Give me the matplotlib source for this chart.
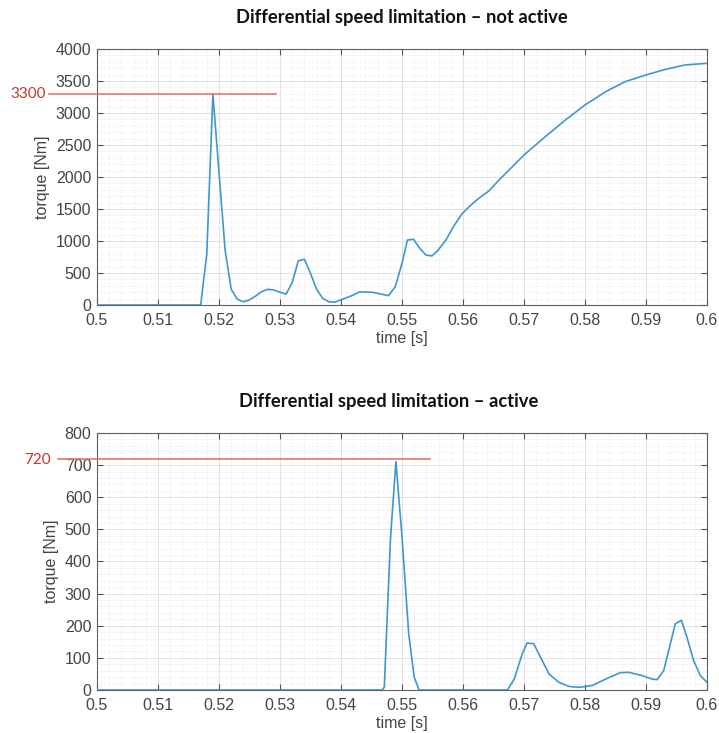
import matplotlib
matplotlib.use("Agg")
import matplotlib.pyplot as plt
import numpy as np
from matplotlib.ticker import MultipleLocator

plt.rcParams['font.family'] = ['Liberation Sans', 'DejaVu Sans']

# --- data ---
# top: not active
t_top = [0.500, 0.517, 0.518, 0.519, 0.521, 0.522, 0.523, 0.524, 0.525, 0.526,
         0.527, 0.528, 0.529, 0.530, 0.531, 0.532, 0.533, 0.534, 0.535, 0.536,
         0.537, 0.538, 0.539, 0.540, 0.542, 0.543, 0.5452, 0.5478, 0.5489, 0.550,
         0.5509, 0.5519, 0.5528, 0.5539, 0.5549, 0.5558, 0.5572, 0.5586, 0.5599, 0.5613,
         0.5626, 0.5643, 0.5659, 0.5681, 0.570, 0.5735, 0.5768, 0.580, 0.5834, 0.5866,
         0.590, 0.5932, 0.5964, 0.600]
tq_top = [0, 0, 800, 3290, 860, 245, 90, 50, 80, 140,
          210, 245, 235, 200, 170, 350, 690, 715, 495, 245,
          105, 50, 45, 80, 155, 205, 198, 146, 286, 651,
          1016, 1026, 900, 781, 766, 844, 1016, 1250, 1432, 1562,
          1667, 1786, 1953, 2161, 2344, 2630, 2891, 3125, 3333, 3490,
          3594, 3682, 3750, 3776]

# bottom: active
t_bot = [0.500, 0.5467, 0.5471, 0.5481, 0.549, 0.550, 0.5511, 0.552, 0.5528, 0.5673,
         0.5684, 0.5697, 0.5705, 0.5716, 0.5727, 0.5741, 0.5757, 0.5774, 0.579, 0.5812,
         0.5834, 0.5858, 0.5872, 0.5893, 0.591, 0.5918, 0.5929, 0.5948, 0.5958, 0.5967,
         0.5978, 0.5989, 0.600]
tq_bot = [0, 0, 8, 467, 711, 477, 175, 40, 0, 0,
          34, 112, 146, 144, 102, 50, 24, 11, 8, 14,
          34, 54, 55, 45, 34, 32, 60, 206, 217, 165,
          92, 45, 24]

titles = ['Differential speed limitation \u2013 not active',
          'Differential speed limitation \u2013 active']
peak_values = [3300, 720]
peak_labels = ['3300', '720']
peak_line_x = [(0.4921, 0.5293), (0.4936, 0.5546)]

ylims = [4000, 800]
ymajor = [500, 100]
yminor = [100, 20]

line_color = '#3e98c8'
red_line = '#e06a6a'
red_text = '#c0392b'
gray = '#444444'

fig = plt.figure(figsize=(7.19, 7.33), dpi=100)
ax_top = fig.add_axes([0.1349, 0.5839, 0.8484, 0.3493])
ax_bot = fig.add_axes([0.1349, 0.0587, 0.8484, 0.3506])

series = [(t_top, tq_top), (t_bot, tq_bot)]
for i, ax in enumerate([ax_top, ax_bot]):
    t, tq = series[i]
    ax.plot(t, tq, color=line_color, linewidth=1.2, zorder=3)
    ax.set_xlim(0.5, 0.6)
    ax.set_ylim(0, ylims[i])
    ticks = np.arange(0.5, 0.6001, 0.01)
    ax.set_xticks(ticks)
    ax.set_xticklabels(['%g' % round(v, 2) for v in ticks])
    ax.xaxis.set_minor_locator(MultipleLocator(0.002))
    ax.yaxis.set_major_locator(MultipleLocator(ymajor[i]))
    ax.yaxis.set_minor_locator(MultipleLocator(yminor[i]))
    ax.grid(True, which='major', color='#dddddd', linewidth=0.6)
    ax.grid(True, which='minor', color='#d8d8d8', linewidth=0.5, linestyle=(0, (1, 2)))
    ax.tick_params(which='major', direction='in', top=True, right=True,
                   length=4, width=0.8, color='#505050', labelsize=11.5,
                   labelcolor=gray)
    ax.tick_params(axis='x', pad=6)
    ax.tick_params(axis='y', pad=4)
    ax.tick_params(which='minor', length=0)
    for s in ax.spines.values():
        s.set_color('#606060')
        s.set_linewidth(0.8)
    ax.set_ylabel('torque [Nm]', fontsize=11.5, color=gray, labelpad=4)
    ax.set_xlabel('time [s]', fontsize=11.5, color=gray, labelpad=2)

    # red reference line for the peak, running out past the axis
    x0, x1 = peak_line_x[i]
    ax.plot([x0, x1], [peak_values[i], peak_values[i]], color=red_line,
            linewidth=1.1, clip_on=False, zorder=4)

fig.text(0.039, 1 - 94 / 733, peak_labels[0], color=red_text, fontsize=11,
         family='Lato', ha='center', va='center')
fig.text(0.052, 1 - 460 / 733, peak_labels[1], color=red_text, fontsize=11,
         family='Lato', ha='center', va='center')

fig.text(0.559, 1 - 17 / 733, titles[0], fontsize=13.2, fontweight='bold',
         family='Lato', ha='center', va='center', color='#111111')
fig.text(0.540, 1 - 401 / 733, titles[1], fontsize=13.2, fontweight='bold',
         family='Lato', ha='center', va='center', color='#111111')

fig.savefig('out.png', dpi=100)
